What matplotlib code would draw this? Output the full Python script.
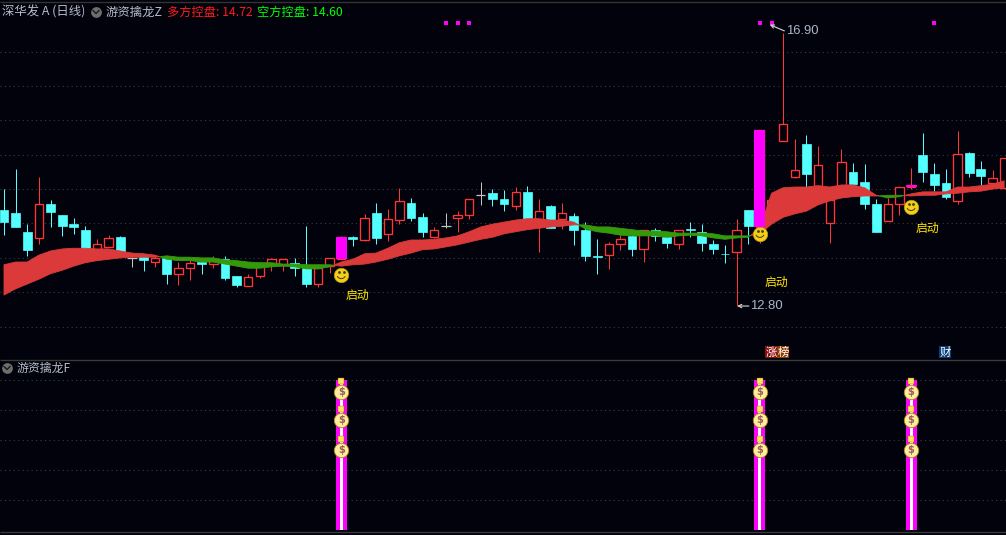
import matplotlib
matplotlib.use('Agg')
import matplotlib.pyplot as plt
from matplotlib.path import Path

plt.rcParams['font.family'] = ['Noto Sans CJK SC', 'DejaVu Sans']

BG = '#02020c'
CYAN = '#54ffff'
RED = '#ff3636'
MAGENTA = '#ff00ff'
GRID = '#3c3c3c'

highs = [14.50, 14.79, 13.99, 14.68, 14.34, 14.12, 14.08, 13.96, 13.77, 13.83,
         13.82, 13.51, 13.54, 13.54, 13.53, 13.44, 13.47, 13.50, 13.53, 13.53,
         13.24, 13.27, 13.43, 13.50, 13.48, 13.50, 13.96, 13.41, 13.50, 13.82,
         13.82, 14.14, 14.30, 14.21, 14.52, 14.37, 14.15, 13.95, 14.15, 14.18,
         14.36, 14.60, 14.50, 14.49, 14.53, 14.55, 14.36, 14.27, 14.30, 14.15,
         14.02, 13.77, 13.73, 13.83, 13.83, 13.91, 13.93, 13.80, 13.91, 14.02,
         13.99, 13.76, 13.69, 14.07, 14.20, 15.36, 14.34, 16.77, 15.23, 15.29,
         15.13, 14.49, 15.08, 14.88, 14.87, 14.36, 14.37, 14.53, 14.81, 15.32,
         14.88, 14.79, 15.35, 15.04, 14.91, 14.78, 14.95]
lows = [13.83, 13.95, 13.53, 13.70, 13.95, 13.82, 13.85, 13.62, 13.62, 13.66,
        13.57, 13.37, 13.31, 13.37, 13.12, 13.11, 13.18, 13.27, 13.35, 13.18,
        13.08, 13.09, 13.21, 13.31, 13.31, 13.24, 13.08, 13.08, 13.28, 13.48,
        13.67, 13.75, 13.70, 13.75, 13.99, 14.04, 13.80, 13.79, 13.93, 13.88,
        14.07, 14.27, 14.25, 14.18, 14.20, 14.04, 13.59, 13.93, 13.92, 13.69,
        13.46, 13.27, 13.34, 13.62, 13.53, 13.44, 13.75, 13.64, 13.63, 13.80,
        13.60, 13.56, 13.43, 12.80, 13.70, 13.72, 14.12, 15.20, 14.66, 14.53,
        14.55, 13.72, 14.55, 14.57, 14.21, 13.88, 14.04, 14.12, 14.50, 14.60,
        14.47, 14.36, 14.28, 14.68, 14.56, 14.56, 14.52]
opens = [14.20, 14.15, 13.88, 13.79, 14.28, 14.12, 13.99, 13.91, 13.62, 13.66,
         13.80, 13.50, 13.51, 13.44, 13.50, 13.27, 13.35, 13.44, 13.41, 13.48,
         13.24, 13.09, 13.24, 13.40, 13.40, 13.43, 13.35, 13.12, 13.38, 13.48,
         13.80, 13.76, 14.15, 13.85, 14.05, 14.30, 14.09, 13.80, 13.96, 14.08,
         14.12, 14.41, 14.44, 14.36, 14.25, 14.46, 13.96, 14.25, 14.07, 14.11,
         13.91, 13.53, 13.54, 13.70, 13.82, 13.63, 13.91, 13.80, 13.70, 13.92,
         13.88, 13.70, 13.56, 13.59, 14.20, 13.95, 14.12, 15.20, 14.68, 15.16,
         14.55, 14.01, 14.55, 14.75, 14.60, 14.28, 14.04, 14.28, 14.53, 15.00,
         14.72, 14.59, 14.33, 15.03, 14.79, 14.59, 14.52]
closes = [14.02, 13.95, 13.62, 14.28, 14.17, 13.96, 13.95, 13.62, 13.70, 13.79,
          13.57, 13.50, 13.47, 13.50, 13.27, 13.35, 13.43, 13.41, 13.46, 13.21,
          13.11, 13.22, 13.40, 13.48, 13.48, 13.35, 13.12, 13.35, 13.50, 13.80,
          13.77, 14.08, 13.79, 14.07, 14.33, 14.08, 13.88, 13.91, 13.96, 14.12,
          14.36, 14.41, 14.36, 14.28, 14.46, 14.04, 14.18, 13.93, 14.15, 13.91,
          13.53, 13.52, 13.70, 13.77, 13.63, 13.91, 13.82, 13.72, 13.91, 13.91,
          13.72, 13.63, 13.55, 13.91, 13.96, 15.36, 14.34, 15.45, 14.78, 14.72,
          14.85, 14.34, 14.89, 14.57, 14.28, 13.88, 14.28, 14.53, 14.56, 14.75,
          14.56, 14.39, 15.01, 14.73, 14.69, 14.66, 14.95]

# 两条控盘线
line_a = [13.40, 13.44, 13.44, 13.54, 13.60, 13.63, 13.64, 13.64, 13.63, 13.63,
          13.60, 13.57, 13.56, 13.54, 13.48, 13.46, 13.46, 13.44, 13.44, 13.41,
          13.38, 13.35, 13.35, 13.37, 13.38, 13.37, 13.34, 13.34, 13.37, 13.44,
          13.48, 13.56, 13.57, 13.64, 13.72, 13.76, 13.76, 13.77, 13.79, 13.82,
          13.88, 13.95, 13.99, 14.02, 14.05, 14.07, 14.07, 14.05, 14.05, 14.02,
          13.92, 13.88, 13.86, 13.83, 13.82, 13.82, 13.82, 13.80, 13.82, 13.83,
          13.82, 13.79, 13.77, 13.79, 13.80, 13.93, 14.44, 14.52, 14.53, 14.53,
          14.55, 14.53, 14.56, 14.56, 14.52, 14.41, 14.37, 14.39, 14.43, 14.46,
          14.46, 14.46, 14.53, 14.53, 14.55, 14.57, 14.62]
line_b = [12.96, 13.05, 13.12, 13.19, 13.27, 13.32, 13.38, 13.43, 13.46, 13.48,
          13.50, 13.51, 13.51, 13.51, 13.53, 13.51, 13.51, 13.50, 13.50, 13.47,
          13.46, 13.44, 13.43, 13.43, 13.41, 13.41, 13.40, 13.40, 13.40, 13.38,
          13.40, 13.41, 13.44, 13.48, 13.53, 13.57, 13.62, 13.63, 13.66, 13.69,
          13.73, 13.77, 13.80, 13.85, 13.88, 13.91, 13.93, 13.95, 13.96, 13.98,
          13.98, 13.95, 13.95, 13.93, 13.91, 13.89, 13.89, 13.88, 13.86, 13.86,
          13.86, 13.85, 13.82, 13.82, 13.82, 13.85, 13.99, 14.09, 14.14, 14.18,
          14.27, 14.33, 14.37, 14.39, 14.40, 14.40, 14.41, 14.41, 14.40, 14.41,
          14.41, 14.43, 14.44, 14.46, 14.47, 14.50, 14.52]

signal_days = [29, 65, 78]
smile_prices = [13.25, 13.85, 14.24]
start_label_days = [30.35, 66.4, 79.4]
start_label_prices = [12.95, 13.15, 13.93]
top_dot_days = [38, 39, 40, 65, 66, 80]
top_dot_price = 16.92
price_ticks = [12.5, 13.0, 13.5, 14.0, 14.5, 15.0, 15.5, 16.0, 16.5]

sub_ticks = [20, 40, 60, 80, 100]
sub_value = 100
bag_values = [93, 74.5, 54.5]


def wick(ax, x, lo, hi, color):
    lines = ax.vlines(x, lo, hi, colors=color, lw=0.72, zorder=2)
    lines.set_snap(True)


def draw_candles(ax):
    days = range(len(opens))
    for i in days:
        top = max(opens[i], closes[i])
        bot = min(opens[i], closes[i])
        if opens[i] == closes[i]:
            c = '#c4c4c4'
            ax.hlines(top, i - 0.4, i + 0.4, colors=c, lw=0.9, zorder=2)
            wick(ax, i, lows[i], highs[i], c)
        elif closes[i] > opens[i]:
            wick(ax, i, top, highs[i], RED)
            wick(ax, i, lows[i], bot, RED)
            ax.bar(i, top - bot, 0.72, bot, facecolor=BG, edgecolor=RED, lw=0.95, zorder=2)
        else:
            wick(ax, i, lows[i], highs[i], CYAN)
            ax.bar(i, top - bot, 0.76, bot, color=CYAN, edgecolor=CYAN, lw=0.5, zorder=2)


def draw_smile(ax, x, y):
    ax.scatter(x, y, s=108, color='#f2cf1d', edgecolors='#b89a10', lw=0.5, zorder=6)
    ax.scatter([x - 0.2, x + 0.2], [y + 0.045, y + 0.045], s=4, color='#4a3a00', lw=0, zorder=7)
    ax.scatter(x, y + 0.012, marker=Path.arc(205, 335), s=40, facecolors='none',
               edgecolors='#4a3a00', lw=0.7, zorder=7)


def draw_bag(ax, x, y):
    ax.scatter(x, y + 6, marker='s', s=14, color='#ffe45c', edgecolors='#8a6a10', lw=0.3, zorder=5)
    ax.scatter(x, y - 1.2, s=108, color='#ffee99', edgecolors='#a8841c', lw=0.6, zorder=5)
    ax.text(x, y - 1.2, '$', color='#9a5a60', fontsize=7, fontweight='bold', ha='center',
            va='center', family='DejaVu Sans', zorder=6)


fig = plt.figure(figsize=(10.06, 5.35), dpi=100, facecolor=BG)

# 主图
ax = fig.add_axes([0, 1 - 359 / 535, 1, 357 / 535], facecolor=BG)
ax.set_xlim(-0.344, 86.16)
ax.set_ylim(12.03, 17.22)
for t in price_ticks:
    ax.axhline(t, color=GRID, lw=0.8, ls=(0, (1, 3)), zorder=1)

draw_candles(ax)

a_over = [a >= b for a, b in zip(line_a, line_b)]
a_under = [a <= b for a, b in zip(line_a, line_b)]
xs = list(range(len(line_a)))
ax.fill_between(xs, line_a, line_b, where=a_over, color='#dc3a3a', lw=0.6, interpolate=True, zorder=3)
ax.fill_between(xs, line_a, line_b, where=a_under, color='#339a0c', lw=0.6, interpolate=True, zorder=3)

for d in signal_days:
    top = max(opens[d], closes[d])
    bot = min(opens[d], closes[d])
    ax.bar(d, top - bot, 0.95, bot, color=MAGENTA, lw=0, zorder=4)

for d, p in zip(signal_days, smile_prices):
    draw_smile(ax, d, p)
for d, p in zip(start_label_days, start_label_prices):
    ax.text(d, p, '启动', color='#ffe600', fontsize=8.6, ha='center', va='center', zorder=6)

ax.scatter(top_dot_days, [top_dot_price] * len(top_dot_days), marker='s', s=7, color=MAGENTA, lw=0, zorder=5)

# 最高最低价标注
ax.text(67.24, 16.80, '16.90', color='#a8b8c8', fontsize=9.4, va='center', family='Liberation Sans', zorder=7)
ax.annotate('', xy=(65.85, 16.89), xytext=(67.1, 16.80),
            arrowprops=dict(arrowstyle='->', color='#d8d8d8', lw=0.8, mutation_scale=6, shrinkA=0, shrinkB=0),
            zorder=7)
ax.text(64.15, 12.80, '12.80', color='#a8b8c8', fontsize=9.4, va='center', family='Liberation Sans', zorder=7)
ax.annotate('', xy=(63.05, 12.80), xytext=(64.05, 12.80),
            arrowprops=dict(arrowstyle='->', color='#d8d8d8', lw=0.8, mutation_scale=6, shrinkA=0, shrinkB=0),
            zorder=7)
ax.axis('off')

# 副图
ax2 = fig.add_axes([0, 1 - 531 / 535, 1, 172 / 535], facecolor=BG)
ax2.set_xlim(-0.344, 86.16)
ax2.set_ylim(-0.67, 114)
for t in sub_ticks:
    ax2.axhline(t, color=GRID, lw=0.8, ls=(0, (1, 3)), zorder=1)
for d in signal_days:
    ax2.bar(d, sub_value, 0.95, color=MAGENTA, lw=0, zorder=3)
    ax2.bar(d, sub_value, 0.26, color='white', lw=0, zorder=4)
    for b in bag_values:
        draw_bag(ax2, d, b)
ax2.axis('off')

# 抬头和分隔线，按像素摆放
top = fig.add_axes([0, 0, 1, 1], facecolor='none', zorder=10)
top.set_xlim(0, 1006)
top.set_ylim(535, 0)
top.axis('off')
top.hlines(2, 0, 1006, colors='#333333', lw=1)
top.hlines(359.5, 0, 1006, colors='#3a3a3a', lw=1)
top.hlines(531.5, 0, 1006, colors='#3a3a3a', lw=1)

for x, y in [(96, 12), (7, 368)]:
    top.scatter(x, y, s=60, color='#6e6e6e', lw=0)
    top.plot([x - 3, x, x + 3], [y - 1.5, y + 1.5, y - 1.5], color='#1a1a1a', lw=1)

top.text(2, 12, '深华发 A (日线)', color='#b4bcc8', fontsize=8.9, va='center')
top.text(106, 12, '游资擒龙Z', color='#b4bcc8', fontsize=8.9, va='center')
top.text(167, 12, '多方控盘: 14.72', color='#ff1a1a', fontsize=8.8, va='center')
top.text(257, 12, '空方控盘: 14.60', color='#00ff00', fontsize=8.8, va='center')
top.text(17, 368, '游资擒龙F', color='#b4bcc8', fontsize=8.6, va='center')

top.text(771, 352, '涨', color='white', fontsize=8.2, ha='center', va='center',
         bbox=dict(facecolor='#8a1010', edgecolor='none', pad=0.6))
top.text(783, 352, '榜', color='white', fontsize=8.2, ha='center', va='center',
         bbox=dict(facecolor='#8a3a00', edgecolor='none', pad=0.6))
top.text(945, 352, '财', color='white', fontsize=8.2, ha='center', va='center',
         bbox=dict(facecolor='#0c3c78', edgecolor='none', pad=0.6))

fig.savefig('out.png', dpi=100, facecolor=BG)
